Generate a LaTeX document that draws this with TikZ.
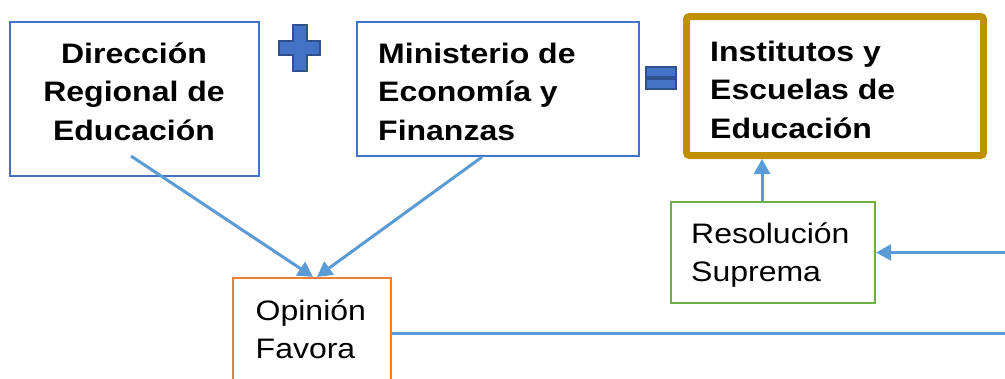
\documentclass[tikz,border=0pt]{standalone}
\usepackage{fontspec}
\setmainfont{Liberation Sans}
\usetikzlibrary{arrows.meta,calc}
\definecolor{boxblue}{HTML}{4472C4}
\definecolor{arrblue}{HTML}{5B9BD5}
\definecolor{darkblue}{HTML}{2F528F}
\definecolor{orng}{HTML}{ED7D31}
\definecolor{grn}{HTML}{70AD47}
\definecolor{gold}{HTML}{BF9000}
\newcommand{\sqtext}[2]{\scalebox{1}[0.88]{\begin{tabular}[t]{@{}#1@{}}#2\end{tabular}}}
\tikzset{
  bluebox/.style={draw=boxblue, line width=2pt, rectangle, inner sep=0pt},
  goldbox/.style={draw=gold, line width=7pt, rectangle, rounded corners=3pt, inner sep=0pt},
  greenbox/.style={draw=grn, line width=2.2pt, rectangle, inner sep=0pt},
  orangebox/.style={draw=orng, line width=2.2pt, rectangle, inner sep=0pt},
  bigtxt/.style={font=\fontsize{32}{43.75}\selectfont\bfseries, inner sep=0pt},
  plaintxt/.style={font=\fontsize{32}{44.3}\selectfont, inner sep=0pt},
  arr/.style={draw=arrblue, line width=3pt, -{Triangle[width=16pt,length=15pt]}},
  conn/.style={draw=arrblue, line width=3pt},
  symb/.style={fill=boxblue, draw=darkblue, line width=1.5pt},
}
\begin{document}
\begin{tikzpicture}[x=1pt,y=-1pt]
\useasboundingbox (0,0) rectangle (1005,378);
\clip (0,0) rectangle (1005,378);
% boxes
\node[bluebox, minimum width=249pt, minimum height=154pt] (b1) at (134.5,99) {};
\node[bluebox, minimum width=282pt, minimum height=134pt] (b2) at (498,89) {};
\node[goldbox, minimum width=297pt, minimum height=139pt] (ie) at (835,86) {};
\node[greenbox, minimum width=204pt, minimum height=101pt] (rs) at (773,252.5) {};
\node[orangebox, minimum width=158pt, minimum height=122pt] (op) at (312,339) {};
% texts
\node[bigtxt, anchor=base] (t1) at (134,63) {\sqtext{c}{Dirección\\Regional de\\Educación}};
\node[bigtxt, anchor=base west] (t2) at (378,63) {\sqtext{l}{Ministerio de\\Economía y\\Finanzas}};
\node[bigtxt, anchor=base west] (t3) at (710,61) {\sqtext{l}{Institutos y\\Escuelas de\\Educación}};
\node[plaintxt, anchor=base west] (t4) at (691,243) {\sqtext{l}{Resolución\\Suprema}};
\node[plaintxt, anchor=base west] (t5) at (255.5,320) {\sqtext{l}{Opinión\\Favora}};
% plus and equals
\draw[symb] (293,25) -- (307,25) -- (307,41) -- (320,41) -- (320,55) -- (307,55) -- (307,71)
  -- (293,71) -- (293,55) -- (279,55) -- (279,41) -- (293,41) -- cycle;
\draw[symb] (646,67) rectangle (676,77);
\draw[symb] (646,79) rectangle (676,89);
% connectors
\coordinate (s1) at (131,156);
\coordinate (s2) at ($(b2.south)+(-16,0)$);
\coordinate (r1) at (1005,252.5);
\coordinate (r2) at (1005,333);
\coordinate (s3) at ($(rs.north)+(-11,0)$);
\draw[arr] (s1) -- ($(op.north)+(1,0)$);
\draw[arr] (s2) -- ($(op.north)+(5,0)$);
\draw[arr] (s3) -- (s3 |- ie.south);
\draw[arr] (r1) -- (rs.east);
\draw[conn] (op.east |- r2) -- (r2);
\end{tikzpicture}
\end{document}
